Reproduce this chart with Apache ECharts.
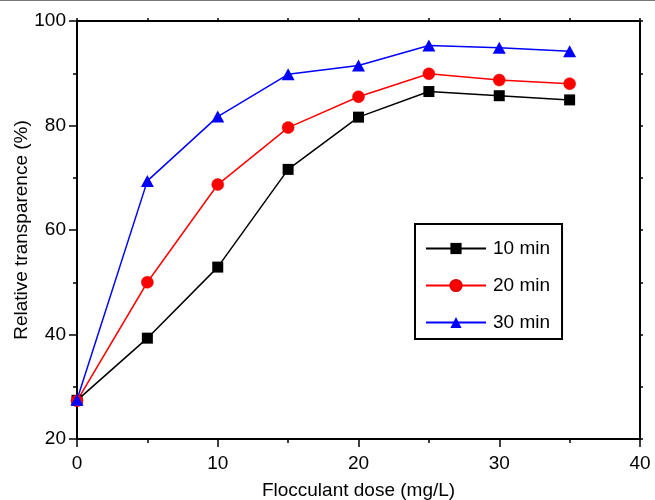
<!DOCTYPE html>
<html>
<head>
<meta charset="utf-8">
<script src="https://cdn.jsdelivr.net/npm/echarts@6/dist/echarts.min.js"></script>
<style>
  html, body { margin: 0; padding: 0; background: #fff; }
  #chart { width: 655px; height: 500px; }
</style>
</head>
<body>
<div id="chart"></div>
<script>
// Flocculant dose (mg/L) on the x axis
const doses = [0, 5, 10, 15, 20, 25, 30, 35];
// Relative transparence (%) after each settling time
const t10min = [27.4, 39.3, 52.9, 71.6, 81.6, 86.5, 85.7, 84.9];
const t20min = [27.3, 50.0, 68.7, 79.6, 85.5, 89.9, 88.7, 88.0];
const t30min = [27.5, 69.4, 81.7, 89.8, 91.5, 95.3, 94.9, 94.2];
const seriesNames = ['10 min', '20 min', '30 min'];

const FONT = 'Liberation Sans, Arial, sans-serif';
const pairs = ys => doses.map((d, i) => [d, ys[i]]);

const chart = echarts.init(document.getElementById('chart'), null, { renderer: 'canvas' });

const axisLine = { show: true, onZero: false, lineStyle: { color: '#000', width: 2 } };

chart.setOption({
  backgroundColor: '#fff',
  animation: false,
  textStyle: { fontFamily: FONT, color: '#000' },
  grid: { left: 77, right: 15, top: 21, bottom: 61, containLabel: false, outerBoundsMode: 'none' },
  graphic: [{
    type: 'line',
    shape: { x1: 0, y1: 0.5, x2: 655, y2: 0.5 },
    style: { stroke: '#777', lineWidth: 1.2 },
    silent: true
  }],
  legend: {
    data: seriesNames,
    orient: 'vertical',
    left: 415,
    top: 224,
    itemWidth: 60,
    itemHeight: 14,
    itemGap: 18,
    padding: [15, 12, 7, 10],
    borderColor: '#000',
    borderWidth: 2,
    backgroundColor: '#fff',
    textStyle: { fontFamily: FONT, fontSize: 19, color: '#000', padding: [0, 0, 0, 2] }
  },
  xAxis: [{
    type: 'value',
    position: 'bottom',
    min: 0, max: 40, interval: 10,
    name: 'Flocculant dose (mg/L)',
    nameLocation: 'middle',
    nameGap: 42,
    nameMoveOverlap: false,
    nameTextStyle: { fontFamily: FONT, fontSize: 19, color: '#000' },
    axisLine: axisLine,
    axisTick: { show: true, inside: false, length: 8, lineStyle: { color: '#000', width: 1.5 } },
    minorTick: { show: true, splitNumber: 2, length: 4, lineStyle: { color: '#000', width: 1.5 } },
    axisLabel: { fontFamily: FONT, fontSize: 19, color: '#000', margin: 15 },
    splitLine: { show: false }
  }, {
    type: 'value',
    position: 'top',
    min: 0, max: 40, interval: 5,
    axisLine: axisLine,
    axisTick: { show: true, inside: false, length: 3, lineStyle: { color: '#000', width: 1.5 } },
    axisLabel: { show: false },
    splitLine: { show: false }
  }],
  yAxis: [{
    type: 'value',
    position: 'left',
    min: 20, max: 100, interval: 20,
    name: 'Relative transparence (%)',
    nameLocation: 'middle',
    nameGap: 46,
    nameMoveOverlap: false,
    nameTextStyle: { fontFamily: FONT, fontSize: 19, color: '#000' },
    axisLine: axisLine,
    axisTick: { show: true, inside: false, length: 8, lineStyle: { color: '#000', width: 1.5 } },
    minorTick: { show: true, splitNumber: 2, length: 4, lineStyle: { color: '#000', width: 1.5 } },
    axisLabel: { fontFamily: FONT, fontSize: 19, color: '#000', margin: 11 },
    splitLine: { show: false }
  }, {
    type: 'value',
    position: 'right',
    min: 20, max: 100, interval: 10,
    axisLine: axisLine,
    axisTick: { show: true, inside: false, length: 3, lineStyle: { color: '#000', width: 1.5 } },
    axisLabel: { show: false },
    splitLine: { show: false }
  }],
  series: [{
    name: seriesNames[0],
    type: 'line',
    data: pairs(t10min),
    symbol: 'rect',
    symbolSize: 11,
    lineStyle: { color: '#000', width: 1.5 },
    itemStyle: { color: '#000' }
  }, {
    name: seriesNames[1],
    type: 'line',
    data: pairs(t20min),
    symbol: 'circle',
    symbolSize: 12,
    lineStyle: { color: '#ff0000', width: 1.5 },
    itemStyle: { color: '#ff0000', borderColor: '#e00000', borderWidth: 0.5 }
  }, {
    name: seriesNames[2],
    type: 'line',
    data: pairs(t30min),
    symbol: 'triangle',
    symbolSize: [13, 12],
    lineStyle: { color: '#0000ff', width: 1.5 },
    itemStyle: { color: '#0000ff' }
  }]
});
</script>
</body>
</html>
